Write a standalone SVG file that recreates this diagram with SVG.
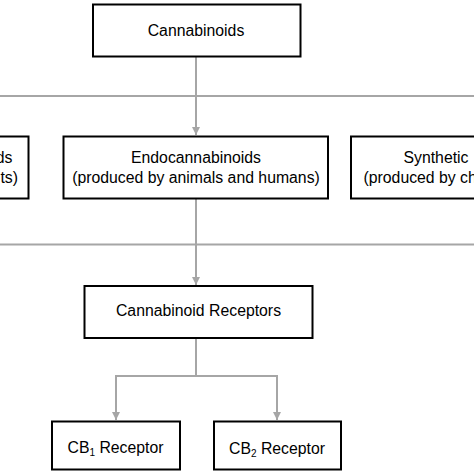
<svg xmlns="http://www.w3.org/2000/svg" width="474" height="474" viewBox="0 0 474 474">
<defs>
<marker id="arr" markerUnits="userSpaceOnUse" markerWidth="9" markerHeight="8" refX="8" refY="4" orient="auto">
<path d="M0,0 L8,4 L0,8 Z" fill="#a6a6a6"/>
</marker>
<style>
.box{fill:#fff;stroke:#000;stroke-width:2}
.t{font-family:"Liberation Sans",Arial,sans-serif;font-size:15.8px;fill:#000;text-anchor:middle}
.e{text-anchor:end}
.s{text-anchor:start}
.c{fill:none;stroke:#a6a6a6;stroke-width:2}
.sub{font-size:10px}
</style>
</defs>
<rect width="474" height="474" fill="#fff"/>
<g id="connectors">
<line class="c" x1="196" y1="57" x2="196" y2="135" marker-end="url(#arr)"/>
<line class="c" x1="0" y1="96" x2="474" y2="96"/>
<line class="c" x1="196" y1="199" x2="196" y2="285" marker-end="url(#arr)"/>
<line class="c" x1="0" y1="244.5" x2="474" y2="244.5"/>
<polyline class="c" points="196,338 196,376"/>
<polyline class="c" points="116,420 116,376 277,376 277,420" marker-end="url(#arr)"/>
<line class="c" x1="116" y1="376" x2="116" y2="420" marker-end="url(#arr)"/>
</g>
<g id="cannabinoids">
<rect class="box" x="93" y="4.5" width="207.5" height="52"/>
<text class="t" x="196" y="36">Cannabinoids</text>
</g>
<g id="phyto">
<rect class="box" x="-10" y="136.5" width="38.5" height="62"/>
<text class="t e" x="12.5" y="163">ds</text>
<text class="t e" x="18" y="183">ts)</text>
</g>
<g id="endo">
<rect class="box" x="63.5" y="136.5" width="264.5" height="62"/>
<text class="t" x="196" y="163">Endocannabinoids</text>
<text class="t" x="196" y="183">(produced by animals and humans)</text>
</g>
<g id="synthetic">
<rect class="box" x="351" y="136.5" width="140" height="62"/>
<text class="t s" x="403.5" y="163">Synthetic</text>
<text class="t s" x="363.5" y="183">(produced by ch</text>
</g>
<g id="receptors">
<rect class="box" x="84.5" y="286" width="228" height="52"/>
<text class="t" x="198.5" y="316">Cannabinoid Receptors</text>
</g>
<g id="cb1">
<rect class="box" x="52" y="421.5" width="128" height="48"/>
<text class="t" x="115.5" y="453">CB<tspan class="sub" dy="3">1</tspan><tspan dy="-3"> Receptor</tspan></text>
</g>
<g id="cb2">
<rect class="box" x="214" y="421.5" width="127" height="48"/>
<text class="t" x="277" y="454">CB<tspan class="sub" dy="3">2</tspan><tspan dy="-3"> Receptor</tspan></text>
</g>
</svg>
